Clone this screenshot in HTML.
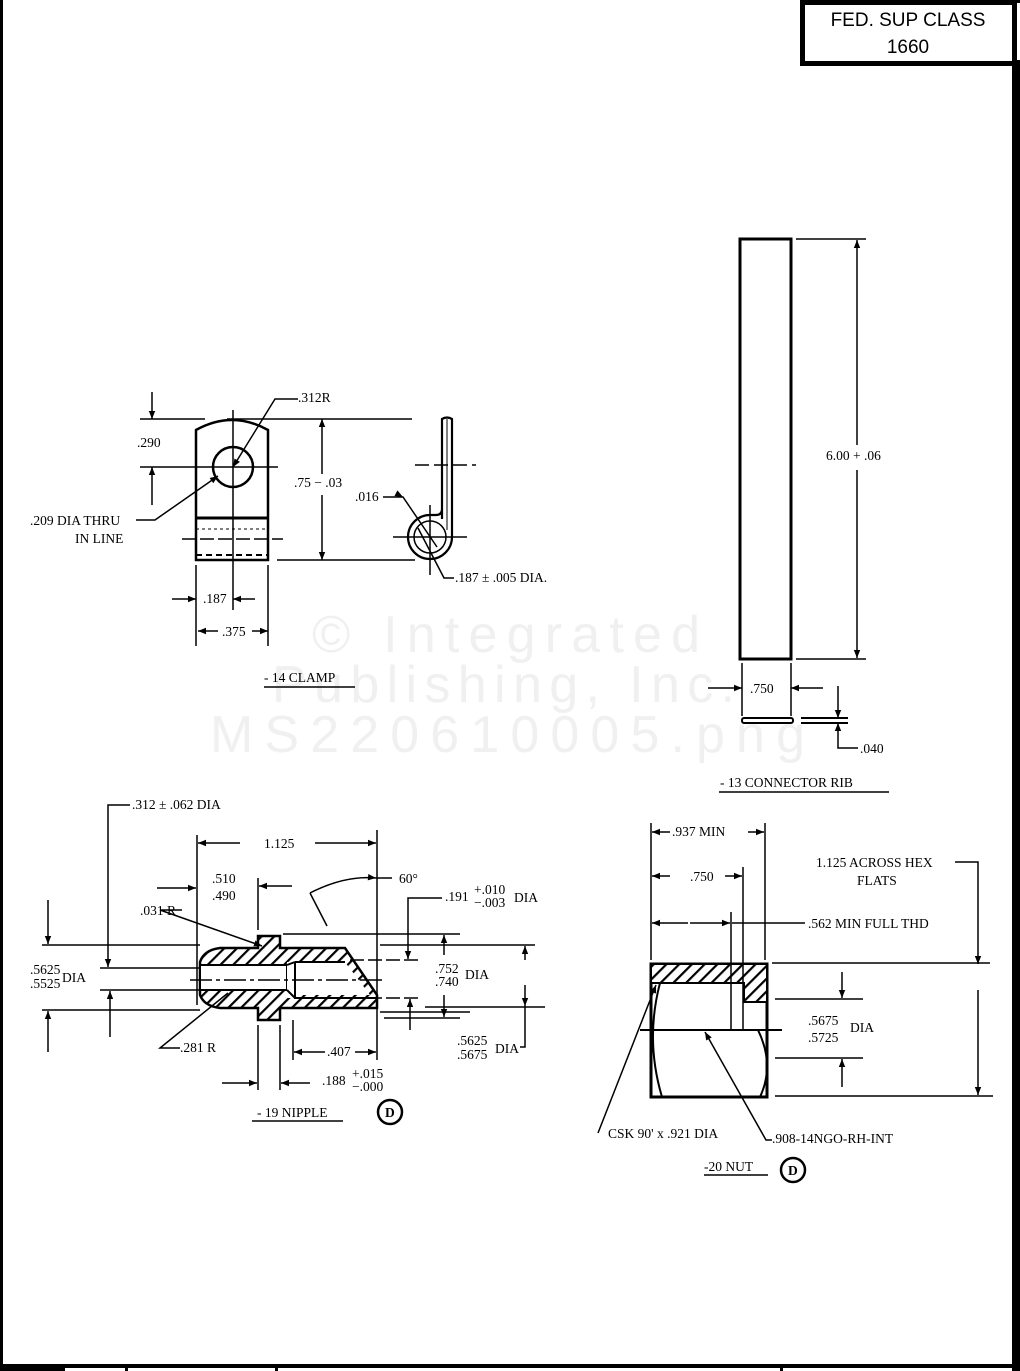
<!DOCTYPE html>
<html><head><meta charset="utf-8"><style>
html,body{margin:0;padding:0;background:#fff}
svg{display:block}
text{font-family:"Liberation Sans",serif;font-size:13.5px;fill:#000}
text{font-family:"Liberation Serif",serif}
.wm{font-family:"Liberation Sans",sans-serif;font-size:52px;fill:#f0f0f0}
.hd{font-family:"Liberation Sans",sans-serif;font-size:19px}
</style></head><body>
<svg width="1020" height="1371" viewBox="0 0 1020 1371" xmlns="http://www.w3.org/2000/svg">
<defs>
<pattern id="h" width="9" height="9" patternUnits="userSpaceOnUse" patternTransform="rotate(45)">
<rect width="9" height="9" fill="#fff"/><rect x="0" y="0" width="2.2" height="9" fill="#000"/></pattern>
<marker id="a" viewBox="0 0 10 10" refX="10" refY="5" markerWidth="11" markerHeight="8" orient="auto-start-reverse" markerUnits="userSpaceOnUse"><path d="M0,1L10,5L0,9z"/></marker>
</defs>
<!-- watermark -->
<text class="wm" x="312" y="652" textLength="388" lengthAdjust="spacing">© Integrated</text>
<text class="wm" x="272" y="702" textLength="463" lengthAdjust="spacing">Publishing, Inc.</text>
<text class="wm" x="210" y="752" textLength="595" lengthAdjust="spacing">MS220610005.png</text>
<!-- frame -->
<rect x="0" y="0" width="3" height="1371"/>
<rect x="1012" y="60" width="8" height="1311"/>
<rect x="0" y="1364" width="1020" height="4"/>
<rect x="0" y="1368" width="65" height="3"/><rect x="125" y="1368" width="3" height="3"/><rect x="275" y="1368" width="3" height="3"/><rect x="780" y="1368" width="3" height="3"/>
<rect x="802.5" y="2.5" width="212" height="61" fill="none" stroke="#000" stroke-width="5"/>
<rect x="800" y="0" width="220" height="3"/>
<text class="hd" x="908" y="26" text-anchor="middle">FED. SUP CLASS</text>
<text class="hd" x="908" y="53" text-anchor="middle">1660</text>

<g stroke="#000" fill="none" stroke-width="1.5">
<!-- CLAMP front -->
<path d="M196,560 V430 Q232,410 268,430 V560 Z" stroke-width="2.5"/>
<line x1="196" y1="518" x2="268" y2="518" stroke-width="3"/>
<line x1="196" y1="555" x2="268" y2="555" stroke-dasharray="6,4" stroke-width="2"/>
<line x1="196" y1="529" x2="268" y2="529" stroke-dasharray="3,3" stroke-width="1"/>
<line x1="182" y1="539" x2="283" y2="539" stroke-dasharray="14,4"/>
<circle cx="233" cy="467" r="20" stroke-width="2.5"/>
<line x1="233" y1="410" x2="233" y2="610"/>
<line x1="140" y1="467" x2="278" y2="467"/>
<line x1="140" y1="419" x2="205" y2="419"/>
<line x1="152" y1="392" x2="152" y2="419" marker-end="url(#a)"/>
<line x1="152" y1="505" x2="152" y2="467" marker-end="url(#a)"/>
<polyline points="298,399 275,399 233,467" marker-end="url(#a)"/>
<polyline points="136,520 155,520 218,476" marker-end="url(#a)"/>
<line x1="227" y1="419" x2="412" y2="419"/>
<line x1="277" y1="560" x2="415" y2="560"/>
<line x1="322" y1="474" x2="322" y2="419" marker-end="url(#a)"/>
<line x1="322" y1="495" x2="322" y2="560" marker-end="url(#a)"/>
<line x1="196" y1="565" x2="196" y2="646"/><line x1="268" y1="565" x2="268" y2="646"/>
<line x1="172" y1="599" x2="196" y2="599" marker-end="url(#a)"/>
<line x1="255" y1="599" x2="233" y2="599" marker-end="url(#a)"/>
<line x1="218" y1="631" x2="198" y2="631" marker-end="url(#a)"/>
<line x1="252" y1="631" x2="268" y2="631" marker-end="url(#a)"/>
<line x1="264" y1="687" x2="355" y2="687"/>
<!-- CLAMP side -->
<path d="M442,519 V419 Q447,416 452,419 V537 A22,22 0 1 1 430,515 H436 Q442,515 442,509 Z" stroke-width="2.2"/>
<line x1="447" y1="419" x2="447" y2="530" stroke-width="1"/>
<circle cx="430" cy="537" r="16" stroke-width="1.5"/>
<line x1="415" y1="465" x2="476" y2="465" stroke-dasharray="14,5"/>
<line x1="430" y1="505" x2="430" y2="575"/>
<line x1="393" y1="537" x2="467" y2="537"/>
<polyline points="383,497 403,497 437,547" marker-mid="url(#a)"/>
<polyline points="454,578 444,578 418,528"/>
<!-- CONNECTOR RIB -->
<rect x="740" y="239" width="51" height="420" stroke-width="3"/>
<line x1="796" y1="239" x2="866" y2="239"/><line x1="796" y1="659" x2="866" y2="659"/>
<line x1="857" y1="445" x2="857" y2="240" marker-end="url(#a)"/>
<line x1="857" y1="470" x2="857" y2="658" marker-end="url(#a)"/>
<line x1="742" y1="663" x2="742" y2="716"/><line x1="791" y1="663" x2="791" y2="716"/>
<line x1="708" y1="688" x2="742" y2="688" marker-end="url(#a)"/>
<line x1="823" y1="688" x2="791" y2="688" marker-end="url(#a)"/>
<rect x="742" y="718" width="51" height="5" rx="2" stroke-width="2"/>
<line x1="801" y1="718" x2="848" y2="718" stroke-width="2"/><line x1="801" y1="723" x2="848" y2="723" stroke-width="2"/>
<line x1="838" y1="686" x2="838" y2="718" marker-end="url(#a)"/>
<polyline points="858,748 838,748 838,723" marker-end="url(#a)"/>
<line x1="719" y1="792" x2="889" y2="792"/>

<!-- NIPPLE -->
<path d="M200,962 Q204,950 220,948 H258 V936 H280 V948 H345 L377,995 V1008 H280 V1020 H258 V1008 H220 Q204,1006 200,995 Z" fill="url(#h)" stroke-width="2.5"/>
<path d="M200,965 H287 V990 H200 Z" fill="#fff" stroke-width="2"/>
<path d="M287,962 H345 L370,995 H295 V998 H287 Z" fill="#fff" stroke="none"/>
<path d="M295,962 V998 H377 M295,962 H345" stroke-width="2"/>
<path d="M287,965 L295,962 M287,990 L295,998" stroke-width="2"/>
<line x1="190" y1="980" x2="385" y2="980" stroke-dasharray="22,4,4,4"/>
<line x1="197" y1="835" x2="197" y2="1005"/>
<line x1="377" y1="830" x2="377" y2="1060"/>
<line x1="240" y1="843" x2="198" y2="843" marker-end="url(#a)"/>
<line x1="315" y1="843" x2="376" y2="843" marker-end="url(#a)"/>
<line x1="157" y1="888" x2="196" y2="888" marker-end="url(#a)"/>
<line x1="258" y1="930" x2="258" y2="878"/>
<line x1="292" y1="886" x2="259" y2="886" marker-end="url(#a)"/>
<path d="M310,893 Q345,875 376,878" marker-end="url(#a)"/>
<line x1="310" y1="893" x2="327" y2="926"/>
<line x1="376" y1="878" x2="392" y2="878"/>
<line x1="42" y1="945" x2="200" y2="945"/><line x1="42" y1="1010" x2="200" y2="1010"/>
<line x1="48" y1="900" x2="48" y2="944" marker-end="url(#a)"/>
<line x1="48" y1="1052" x2="48" y2="1011" marker-end="url(#a)"/>
<line x1="100" y1="968" x2="200" y2="968"/><line x1="100" y1="990" x2="200" y2="990"/>
<polyline points="130,805 108,805 108,967" marker-end="url(#a)"/>
<line x1="110" y1="1037" x2="110" y2="991" marker-end="url(#a)"/>
<polyline points="182,910 160,910 262,946" marker-end="url(#a)"/>
<polyline points="180,1048 160,1048 228,993"/>
<line x1="283" y1="934" x2="460" y2="934"/>
<line x1="380" y1="945" x2="535" y2="945"/>
<line x1="350" y1="960" x2="420" y2="960" stroke-dasharray="14,4"/>
<line x1="350" y1="998" x2="420" y2="998" stroke-dasharray="14,4"/>
<line x1="380" y1="1012" x2="470" y2="1012"/>
<line x1="384" y1="1018" x2="460" y2="1018"/>
<line x1="425" y1="1007" x2="545" y2="1007"/>
<polyline points="442,898 408,898 408,959" marker-end="url(#a)"/>
<line x1="410" y1="1030" x2="410" y2="999" marker-end="url(#a)"/>
<line x1="444" y1="955" x2="444" y2="935" marker-end="url(#a)"/>
<line x1="444" y1="995" x2="444" y2="1017" marker-end="url(#a)"/>
<line x1="525" y1="960" x2="525" y2="946" marker-end="url(#a)"/>
<line x1="525" y1="985" x2="525" y2="1006" marker-end="url(#a)"/>
<polyline points="525,1006 525,1047 520,1047"/>
<line x1="293" y1="1020" x2="293" y2="1060"/>
<line x1="325" y1="1052" x2="294" y2="1052" marker-end="url(#a)"/>
<line x1="355" y1="1052" x2="376" y2="1052" marker-end="url(#a)"/>
<line x1="258" y1="1025" x2="258" y2="1090"/><line x1="280" y1="1025" x2="280" y2="1090"/>
<line x1="222" y1="1083" x2="257" y2="1083" marker-end="url(#a)"/>
<line x1="310" y1="1083" x2="281" y2="1083" marker-end="url(#a)"/>
<line x1="252" y1="1121" x2="343" y2="1121"/>
<circle cx="390" cy="1112" r="12" stroke-width="2.5"/>

<!-- NUT -->
<rect x="651" y="964" width="116" height="133" stroke-width="3"/>
<path d="M651,964 H767 V1002 H744 V983 H651 Z" fill="url(#h)" stroke-width="2"/>
<line x1="731" y1="912" x2="731" y2="1030"/><line x1="743" y1="867" x2="743" y2="1030"/>
<line x1="640" y1="1030" x2="782" y2="1030" stroke-width="2"/>
<path d="M660,983 Q645,1040 662,1097 M758,1030 Q775,1065 760,1097" stroke-width="2"/>
<line x1="651" y1="823" x2="651" y2="960"/><line x1="765" y1="823" x2="765" y2="960"/>
<line x1="670" y1="832" x2="652" y2="832" marker-end="url(#a)"/>
<line x1="748" y1="832" x2="764" y2="832" marker-end="url(#a)"/>
<line x1="670" y1="876" x2="652" y2="876" marker-end="url(#a)"/>
<line x1="725" y1="876" x2="742" y2="876" marker-end="url(#a)"/>
<line x1="688" y1="923" x2="652" y2="923" marker-end="url(#a)"/>
<line x1="690" y1="923" x2="730" y2="923" marker-end="url(#a)"/>
<line x1="732" y1="923" x2="805" y2="923"/>
<line x1="772" y1="963" x2="990" y2="963"/><line x1="775" y1="1096" x2="993" y2="1096"/>
<line x1="775" y1="999" x2="863" y2="999"/><line x1="775" y1="1058" x2="863" y2="1058"/>
<line x1="842" y1="972" x2="842" y2="998" marker-end="url(#a)"/>
<line x1="842" y1="1087" x2="842" y2="1059" marker-end="url(#a)"/>
<polyline points="955,862 978,862 978,964" marker-end="url(#a)"/>
<line x1="978" y1="990" x2="978" y2="1095" marker-end="url(#a)"/>
<line x1="598" y1="1133" x2="656" y2="985" marker-end="url(#a)"/>
<polyline points="772,1140 766,1140 705,1032" marker-end="url(#a)"/>
<line x1="704" y1="1175" x2="768" y2="1175"/>
<circle cx="793" cy="1170" r="12" stroke-width="2.5"/>
</g>
<rect x="1015" y="965" width="5" height="25" fill="#000"/>

<!-- labels -->
<text x="137" y="447">.290</text>
<text x="298" y="402">.312R</text>
<text x="30" y="525">.209 DIA THRU</text>
<text x="75" y="543">IN LINE</text>
<text x="294" y="487">.75 − .03</text>
<text x="355" y="501">.016</text>
<text x="455" y="582">.187 ± .005 DIA.</text>
<text x="203" y="603">.187</text>
<text x="222" y="636">.375</text>
<text x="264" y="682">- 14 CLAMP</text>
<text x="826" y="460">6.00 + .06</text>
<text x="750" y="693">.750</text>
<text x="860" y="753">.040</text>
<text x="720" y="787">- 13 CONNECTOR RIB</text>
<text x="132" y="809">.312 ± .062 DIA</text>
<text x="264" y="848">1.125</text>
<text x="212" y="883">.510</text>
<text x="212" y="900">.490</text>
<text x="399" y="883">60°</text>
<text x="140" y="915">.031 R</text>
<text x="445" y="901">.191</text>
<text x="474" y="894" font-size="12">+.010</text>
<text x="474" y="907" font-size="12">−.003</text>
<text x="514" y="902">DIA</text>
<text x="30" y="974">.5625</text><text x="30" y="988">.5525</text><text x="62" y="982">DIA</text>
<text x="435" y="973">.752</text><text x="435" y="986">.740</text><text x="465" y="979">DIA</text>
<text x="457" y="1045">.5625</text><text x="457" y="1059">.5675</text><text x="495" y="1053">DIA</text>
<text x="180" y="1052">.281 R</text>
<text x="327" y="1056">.407</text>
<text x="322" y="1085">.188</text>
<text x="352" y="1078" font-size="12">+.015</text>
<text x="352" y="1091" font-size="12">−.000</text>
<text x="257" y="1117">- 19 NIPPLE</text>
<text x="385" y="1117" font-size="11" font-weight="bold" font-family="Liberation Sans">D</text>
<text x="672" y="836">.937 MIN</text>
<text x="690" y="881">.750</text>
<text x="808" y="928">.562 MIN FULL THD</text>
<text x="816" y="867">1.125 ACROSS HEX</text>
<text x="857" y="885">FLATS</text>
<text x="808" y="1025">.5675</text><text x="808" y="1042">.5725</text><text x="850" y="1032">DIA</text>
<text x="608" y="1138">CSK 90' x .921 DIA</text>
<text x="772" y="1143">.908-14NGO-RH-INT</text>
<text x="704" y="1171">-20 NUT</text>
<text x="788" y="1175" font-size="11" font-weight="bold" font-family="Liberation Sans">D</text>
</svg>
</body></html>
